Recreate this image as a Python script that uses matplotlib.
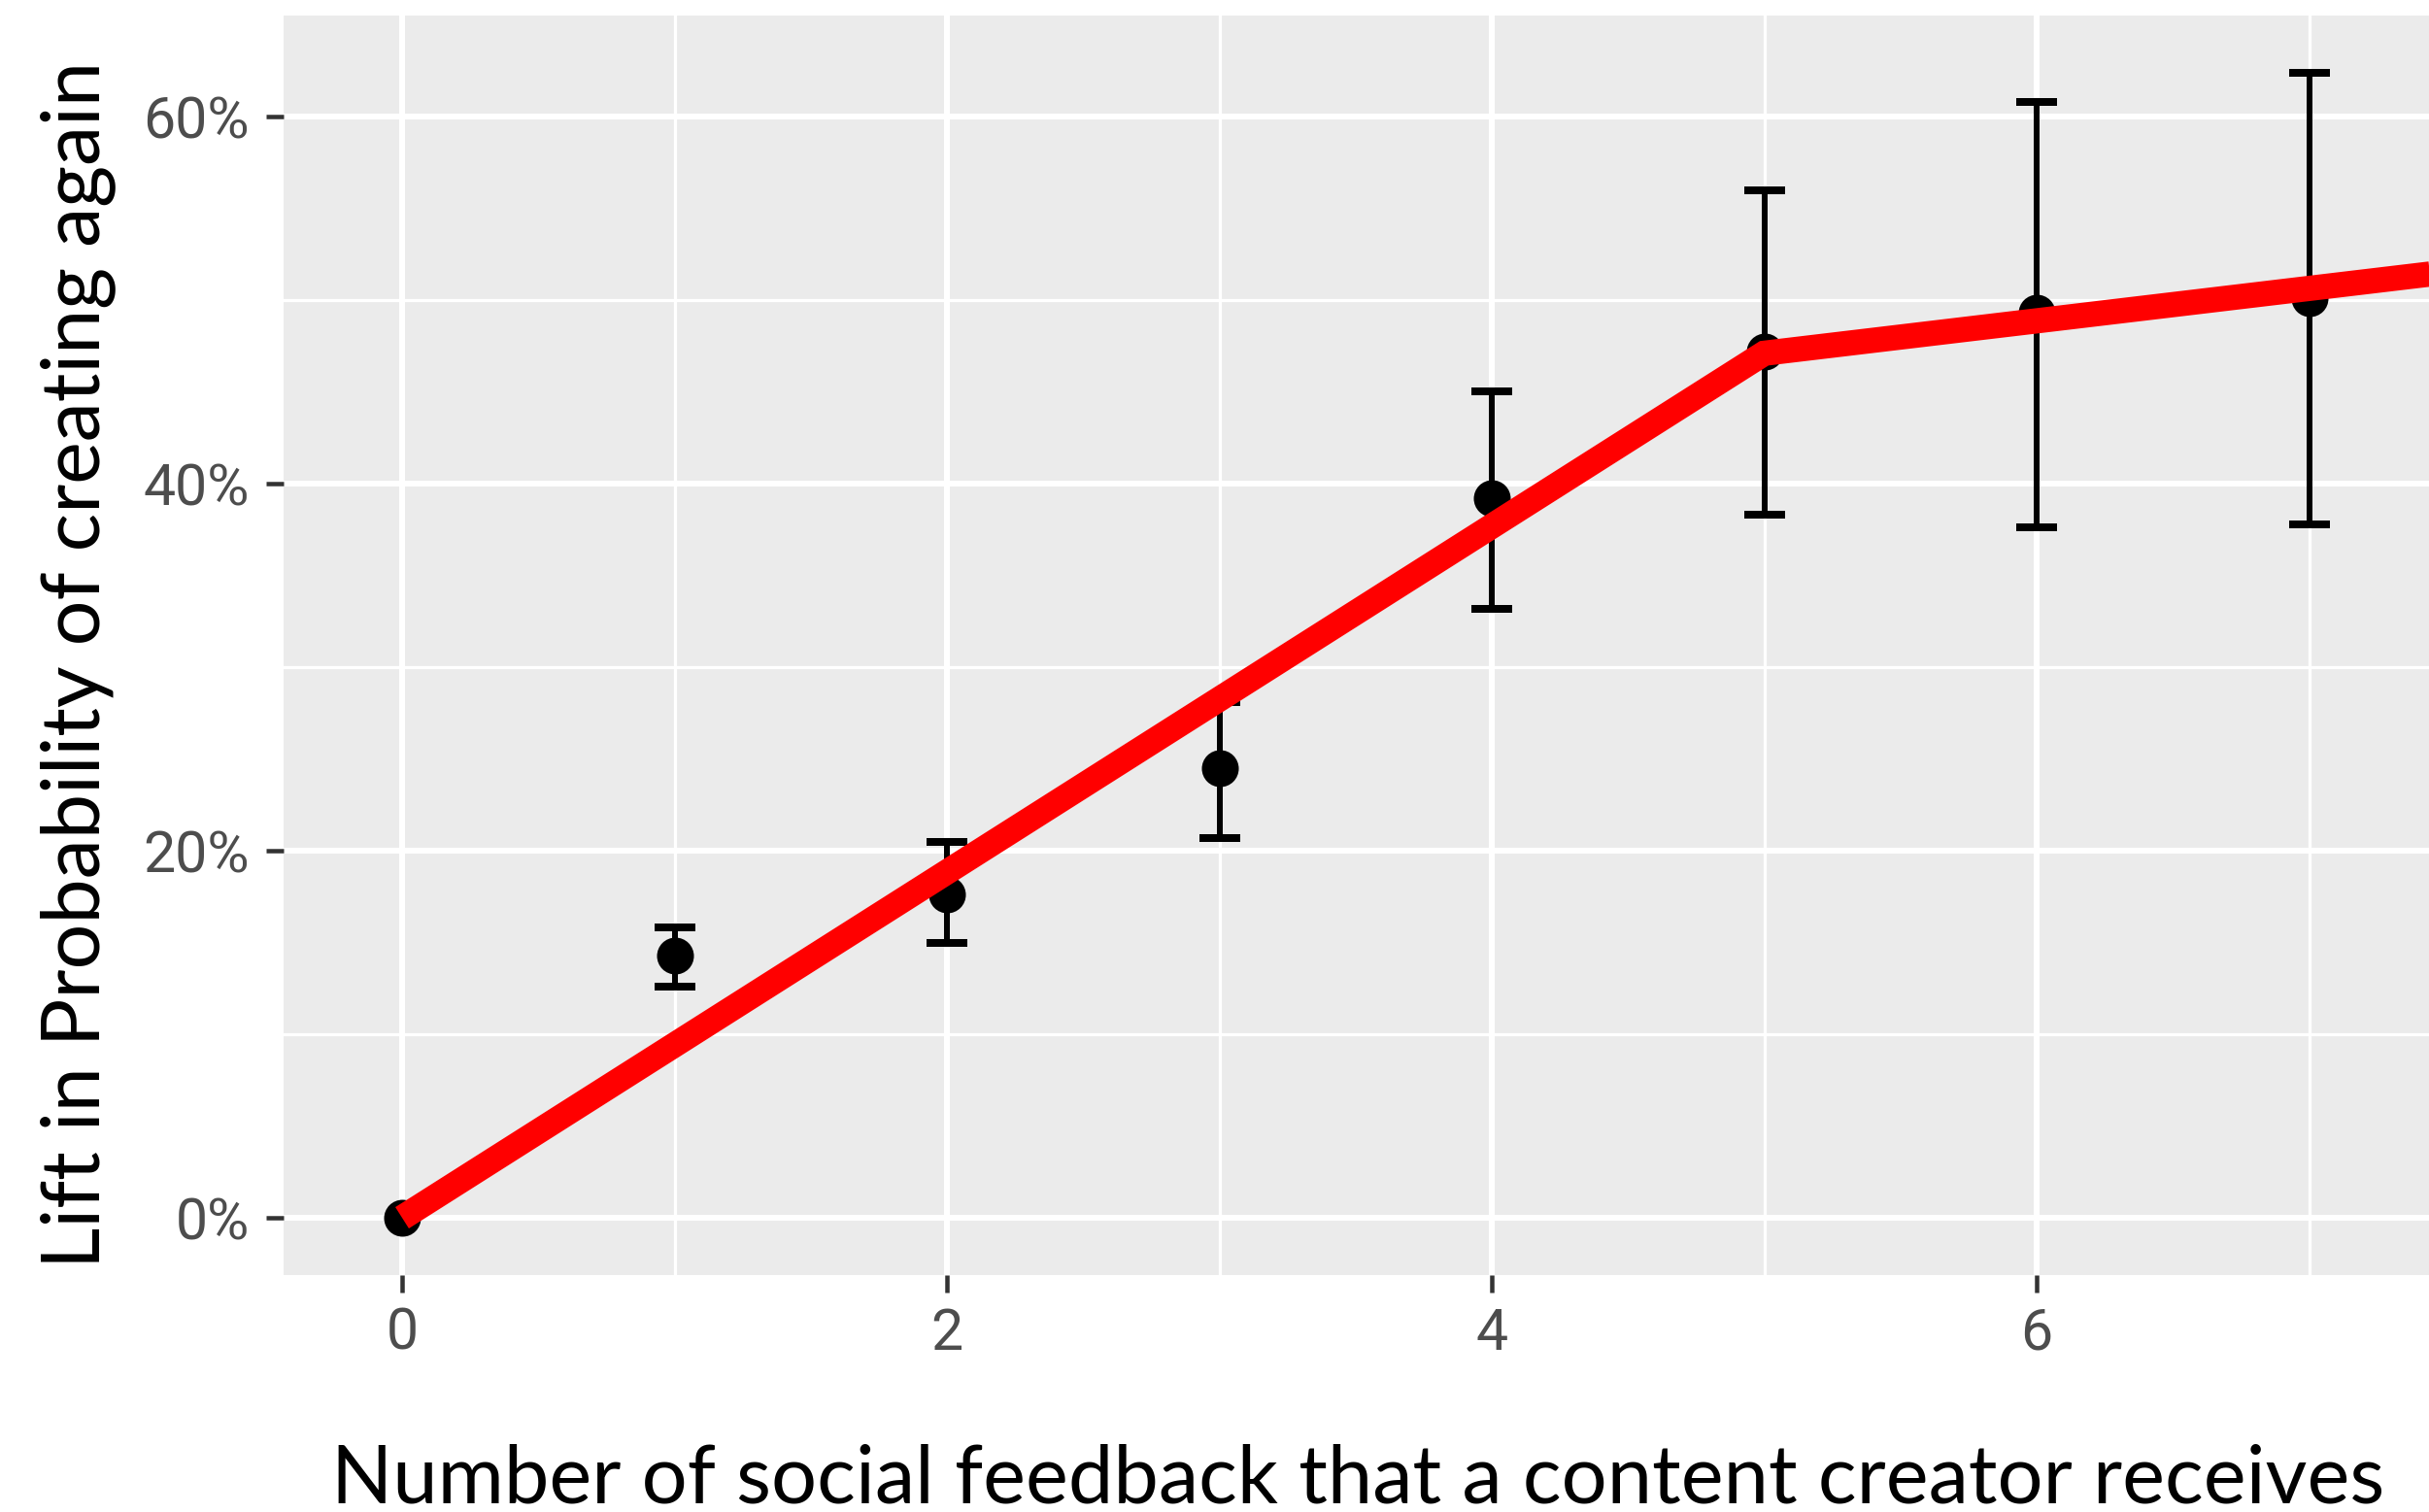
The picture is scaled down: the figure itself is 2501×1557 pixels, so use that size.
import matplotlib
matplotlib.use("Agg")
import matplotlib.pyplot as plt
from matplotlib.ticker import FixedLocator, FuncFormatter

# Lift (in %) by number of feedback received, with confidence bounds
feedback_counts = [0, 1, 2, 3, 4, 5, 6, 7]
lift_pct = [0.0, 14.3, 17.6, 24.5, 39.2, 47.2, 49.3, 50.1]
lift_low = [0.0, 12.6, 15.0, 20.7, 33.2, 38.3, 37.6, 37.8]
lift_high = [0.0, 15.8, 20.5, 28.1, 45.0, 56.0, 60.8, 62.4]

# Piecewise-linear fit drawn over the points
fit_x = [0, 5, 8]
fit_y = [0.0, 47.1, 52.4]

x_major = [0, 2, 4, 6]
x_minor = [1, 3, 5, 7]
y_major = [0, 20, 40, 60]
y_minor = [10, 30, 50]

x_title = "Number of social feedback that a content creator receives"
y_title = "Lift in Probability of creating again"

W, H, DPI = 2501, 1557, 100
fig = plt.figure(figsize=(W / DPI, H / DPI), dpi=DPI, facecolor="white")

px = lambda v: v * 72.0 / DPI  # pixels -> points

left_px, right_px, top_px, bottom_px = 292, 2501, 16, 1313
ax = fig.add_axes([left_px / W, 1 - bottom_px / H,
                   (right_px - left_px) / W, (bottom_px - top_px) / H])
ax.set_facecolor("#EBEBEB")
for s in ax.spines.values():
    s.set_visible(False)

ax.set_xlim(-0.435, 7.44)
ax.set_ylim(-3.12, 65.5)

# grid
ax.xaxis.set_major_locator(FixedLocator(x_major))
ax.xaxis.set_minor_locator(FixedLocator(x_minor))
ax.yaxis.set_major_locator(FixedLocator(y_major))
ax.yaxis.set_minor_locator(FixedLocator(y_minor))
ax.grid(which="major", color="white", linewidth=px(6))
ax.grid(which="minor", color="white", linewidth=px(3.2))
ax.set_axisbelow(True)

ax.yaxis.set_major_formatter(FuncFormatter(lambda v, p: f"{v:.0f}%"))
ax.xaxis.set_major_formatter(FuncFormatter(lambda v, p: f"{v:.0f}"))

tick_font = ["Roboto", "DejaVu Sans"]
ax.tick_params(which="major", length=px(18), width=px(4.5), color="#333333",
               labelcolor="#4D4D4D", labelsize=px(59))
ax.tick_params(which="minor", length=0)
ax.tick_params(axis="y", pad=px(17))
ax.tick_params(axis="x", pad=px(14))
for lab in ax.get_xticklabels() + ax.get_yticklabels():
    lab.set_family(tick_font)

# points with error bars
err_lo = [m - l for m, l in zip(lift_pct, lift_low)]
err_hi = [h - m for m, h in zip(lift_pct, lift_high)]
ax.errorbar(feedback_counts[1:], lift_pct[1:],
            yerr=[err_lo[1:], err_hi[1:]], fmt="none", ecolor="black",
            elinewidth=px(6), capsize=px(21), capthick=px(8), zorder=3)
ax.plot(feedback_counts, lift_pct, linestyle="none", marker="o",
        markersize=px(38), color="black", markeredgewidth=0, zorder=4)

# fitted red line on top
ax.plot(fit_x, fit_y, color="#FF0000", linewidth=px(26),
        solid_capstyle="butt", solid_joinstyle="miter", zorder=5)

# axis titles
label_font = ["Lato", "Open Sans", "DejaVu Sans"]
xt = fig.text(1398 / W, 1 - 1547 / H, x_title, ha="center", va="baseline",
              fontsize=60, family=label_font, color="black")
yt = fig.text(102 / W, 1 - 685 / H, y_title, ha="center", va="baseline",
              rotation=90, rotation_mode="anchor",
              fontsize=60, family=label_font, color="black")

# size the titles to their intended lengths
fig.canvas.draw()
r = fig.canvas.get_renderer()
for t, target, horiz in ((xt, 2116, True), (yt, 1245, False)):
    bb = t.get_window_extent(r)
    cur = bb.width if horiz else bb.height
    t.set_fontsize(60 * target / cur)

fig.savefig("out.png", dpi=DPI, facecolor="white")
